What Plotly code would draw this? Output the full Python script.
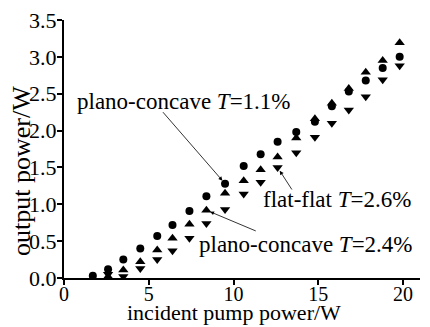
import plotly.graph_objects as go

# Data
pump_power = [1.7, 2.6, 3.5, 4.5, 5.5, 6.4, 7.4, 8.4, 9.5, 10.6, 11.6, 12.6, 13.7, 14.8, 15.8, 16.8, 17.8, 18.8, 19.8]
pc_T11 = [0.03, 0.12, 0.25, 0.40, 0.57, 0.72, 0.91, 1.11, 1.28, 1.52, 1.68, 1.85, 1.98, 2.12, 2.33, 2.53, 2.68, 2.85, 3.00]
pc_T24 = [None, 0.02, 0.11, 0.22, 0.38, 0.54, 0.73, 0.92, 1.15, 1.32, 1.47, 1.64, 1.90, 2.16, 2.37, 2.57, 2.79, 2.95, 3.19]
ff_T26 = [None, 0.05, 0.02, 0.13, 0.25, 0.37, 0.54, 0.74, 0.93, 1.14, 1.30, 1.50, 1.70, 1.91, 2.10, 2.28, 2.46, 2.69, 2.88]

x_ticks = [0, 5, 10, 15, 20]
x_minor_ticks = [2.5, 7.5, 12.5, 17.5]
y_ticks = [0.0, 0.5, 1.0, 1.5, 2.0, 2.5, 3.0, 3.5]
y_tick_labels = ["0.0", "0.5", "1.0", "1.5", "2.0", "2.5", "3.0", "3.5"]
y_minor_ticks = [0.25, 0.75, 1.25, 1.75, 2.25, 2.75, 3.25]

FONT = "Liberation Serif"
X_RANGE = [0, 21]
Y_RANGE = [0, 3.5]

fig = go.Figure()
fig.add_trace(go.Scatter(x=pump_power, y=pc_T11, mode="markers",
                         marker=dict(symbol="circle", size=8, color="black"), showlegend=False))
fig.add_trace(go.Scatter(x=pump_power, y=pc_T24, mode="markers",
                         marker=dict(symbol="triangle-up", size=9, color="black"), showlegend=False))
fig.add_trace(go.Scatter(x=pump_power, y=ff_T26, mode="markers",
                         marker=dict(symbol="triangle-down", size=9, color="black"), showlegend=False))

label_font = dict(family=FONT, size=23, color="black")
annotations = [
    dict(x=7.1, y=2.40, text="plano-concave <i>T</i>=1.1%", showarrow=False, font=label_font),
    dict(x=16.1, y=1.07, text="flat-flat <i>T</i>=2.6%", showarrow=False, font=label_font),
    dict(x=14.3, y=0.45, text="plano-concave <i>T</i>=2.4%", showarrow=False, font=label_font),
    # axis titles
    dict(xref="paper", yref="paper", x=0.478, y=-0.19, xanchor="center", yanchor="bottom",
         text="incident pump power/W", showarrow=False,
         font=dict(family=FONT, size=22, color="black")),
    dict(xref="paper", yref="paper", x=-0.118, y=0.415, xanchor="center", yanchor="middle",
         text="output power/W", textangle=-90, showarrow=False,
         font=dict(family=FONT, size=26, color="black")),
    # arrows
    dict(x=pump_power[8], y=pc_T11[8], ax=5.76, ay=2.27, axref="x", ayref="y", text="",
         showarrow=True, arrowhead=2, arrowsize=1, arrowwidth=0.8, arrowcolor="black", standoff=4),
    dict(x=pump_power[11], y=ff_T26[11], ax=13.5, ay=1.18, axref="x", ayref="y", text="",
         showarrow=True, arrowhead=2, arrowsize=1, arrowwidth=0.8, arrowcolor="black", standoff=4),
    dict(x=pump_power[7], y=pc_T24[7], ax=11.4, ay=0.63, axref="x", ayref="y", text="",
         showarrow=True, arrowhead=2, arrowsize=1, arrowwidth=0.8, arrowcolor="black", standoff=4),
]

fig.update_layout(
    width=430, height=327,
    margin=dict(l=64, r=10, t=20, b=49, autoexpand=False),
    paper_bgcolor="white", plot_bgcolor="white",
    font=dict(family=FONT, size=22, color="black"),
    annotations=annotations,
    xaxis=dict(range=X_RANGE, tickmode="array", tickvals=x_ticks, ticks="outside", ticklen=5,
               tickwidth=1.5, tickcolor="black", ticklabelstandoff=-8,
               showline=True, linecolor="black", linewidth=1.5, showgrid=False, zeroline=False,
               automargin=False, tickfont=dict(family=FONT, size=20, color="black")),
    yaxis=dict(range=Y_RANGE, tickmode="array", tickvals=y_ticks, ticktext=y_tick_labels,
               ticks="outside", ticklen=5, tickwidth=1.5, tickcolor="black", ticklabelstandoff=-4,
               showline=True, linecolor="black", linewidth=2, showgrid=False, zeroline=False,
               automargin=False, tickfont=dict(family=FONT, size=22, color="black")),
    # overlay axes carrying only the short minor ticks
    xaxis2=dict(range=X_RANGE, overlaying="x", anchor="y", side="bottom", tickmode="array",
                tickvals=x_minor_ticks, ticks="outside", ticklen=3, tickwidth=1, tickcolor="black",
                showticklabels=False, showline=False, showgrid=False, zeroline=False, automargin=False),
    yaxis2=dict(range=Y_RANGE, overlaying="y", anchor="x", side="left", tickmode="array",
                tickvals=y_minor_ticks, ticks="outside", ticklen=3, tickwidth=1, tickcolor="black",
                showticklabels=False, showline=False, showgrid=False, zeroline=False, automargin=False),
)

fig.write_html("out.html", config={"displayModeBar": False},
               post_script="document.body.style.margin='0';document.body.style.overflow='hidden';")
